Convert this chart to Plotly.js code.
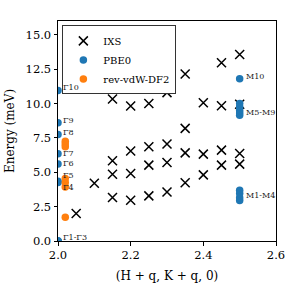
<!DOCTYPE html>
<html>
<head>
<meta charset="utf-8">
<script src="https://cdn.plot.ly/plotly-3.0.1.min.js"></script>
<style>html,body{margin:0;padding:0;background:#fff;}</style>
</head>
<body>
<div id="chart" style="width:300px;height:300px;"></div>
<script>
// IXS measurements
const ixsX = [2.05, 2.10,
  2.15, 2.15, 2.15, 2.15,
  2.20, 2.20, 2.20, 2.20,
  2.25, 2.25, 2.25, 2.25,
  2.30, 2.30, 2.30, 2.30,
  2.35, 2.35, 2.35, 2.35,
  2.40, 2.40, 2.40,
  2.45, 2.45, 2.45, 2.45,
  2.50, 2.50, 2.50, 2.50];
const ixsE = [2.0, 4.2,
  10.33, 5.83, 4.86, 3.16,
  9.82, 6.54, 4.91, 2.97,
  10.0, 6.85, 5.52, 3.28,
  10.79, 7.05, 5.71, 3.57,
  12.15, 8.19, 6.41, 4.23,
  10.06, 6.32, 4.81,
  12.97, 9.84, 6.61, 5.52,
  13.56, 9.95, 6.37, 5.59];

// PBE0 at Gamma and M
const pbeX = [2.0, 2.0, 2.0, 2.0, 2.0, 2.0, 2.0, 2.0, 2.0, 2.0,
  2.5, 2.5, 2.5, 2.5, 2.5, 2.5, 2.5, 2.5, 2.5, 2.5];
const pbeE = [0, 0, 0, 4.25, 4.35, 5.6, 6.35, 7.75, 8.6, 10.95,
  2.95, 3.15, 3.45, 3.7, 9.15, 9.3, 9.5, 9.75, 10.0, 11.8];

// rev-vdW-DF2 at Gamma (offset)
const vdwX = [2.02, 2.02, 2.02, 2.02, 2.02, 2.02, 2.02];
const vdwE = [1.72, 3.92, 4.25, 4.55, 6.85, 7.05, 7.25];

// mode labels
const modeLabels = ['Γ1-Γ3', 'Γ4', 'Γ5', 'Γ6', 'Γ7', 'Γ8', 'Γ9', 'Γ10', 'M1-M4', 'M5-M9', 'M10'];
const modeLabelX = [2.008, 2.008, 2.008, 2.008, 2.008, 2.008, 2.008, 2.008, 2.5115, 2.5115, 2.5115];
const modeLabelE = [0.23, 3.88, 4.74, 5.62, 6.4, 7.89, 8.74, 11.17, 3.33, 9.31, 11.93];

const xTicks = [2.0, 2.2, 2.4, 2.6];
const yTicks = [0, 2.5, 5, 7.5, 10, 12.5, 15];

const serif = 'DejaVu Serif, serif';

const traces = [
  {x: ixsX, y: ixsE, type: 'scatter', mode: 'markers', name: 'IXS',
   marker: {symbol: 'x-thin-open', size: 9, color: '#000', line: {color: '#000', width: 1.5}}},
  {x: pbeX, y: pbeE, type: 'scatter', mode: 'markers', name: 'PBE0',
   marker: {symbol: 'circle', size: 7.5, color: '#1f77b4'}},
  {x: vdwX, y: vdwE, type: 'scatter', mode: 'markers', name: 'rev-vdW-DF2',
   marker: {symbol: 'circle', size: 7.5, color: '#ff7f0e'}}
];

const annotations = modeLabels.map((t, i) => ({
  x: modeLabelX[i], y: modeLabelE[i], xref: 'x', yref: 'y', text: t,
  showarrow: false, xanchor: 'left', yanchor: 'middle',
  font: {family: serif, size: 8, color: '#222'}
}));

const axisCommon = {
  showline: true, linecolor: '#000', linewidth: 1, mirror: true,
  ticks: 'outside', ticklen: 3.5, tickwidth: 1, tickcolor: '#000',
  showgrid: false, zeroline: false,
  tickfont: {family: serif, size: 11.5, color: '#000'}
};

const layout = {
  width: 300, height: 300,
  margin: {l: 58, r: 24, t: 21, b: 59},
  paper_bgcolor: '#fff', plot_bgcolor: '#fff',
  showlegend: true,
  legend: {x: 0.02, y: 0.98, xanchor: 'left', yanchor: 'top',
    bordercolor: '#333', borderwidth: 1, bgcolor: '#fff',
    font: {family: serif, size: 10, color: '#000'}, itemwidth: 30},
  xaxis: Object.assign({}, axisCommon, {
    range: [2.0, 2.6], tickvals: xTicks, ticktext: xTicks.map(v => v.toFixed(1)),
    title: {text: '(H + q, K + q, 0)', font: {family: serif, size: 12, color: '#000'}, standoff: 10}
  }),
  yaxis: Object.assign({}, axisCommon, {
    range: [0, 16], tickvals: yTicks, ticktext: yTicks.map(v => v.toFixed(1)),
    title: {text: 'Energy (meV)', font: {family: serif, size: 12, color: '#000'}, standoff: 8}
  }),
  annotations: annotations
};

Plotly.newPlot('chart', traces, layout, {displayModeBar: false, staticPlot: true});
</script>
</body>
</html>
